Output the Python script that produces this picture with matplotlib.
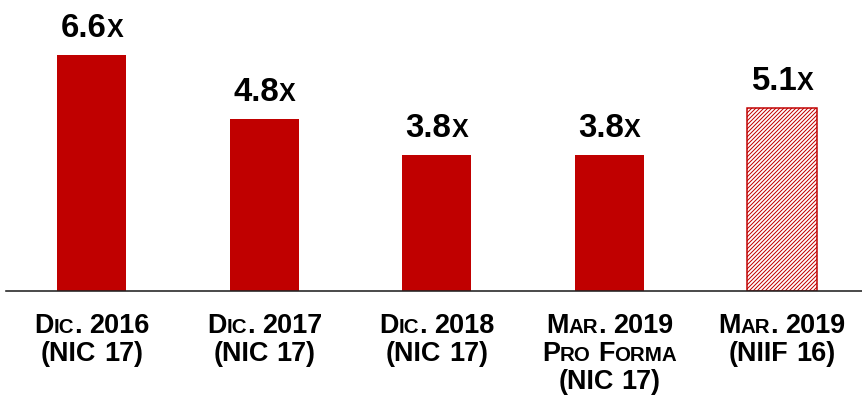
import matplotlib
matplotlib.use('Agg')
import matplotlib.pyplot as plt
from matplotlib.offsetbox import TextArea, HPacker, VPacker, AnnotationBbox

plt.rcParams['font.family'] = ['Liberation Sans', 'DejaVu Sans']
plt.rcParams['hatch.linewidth'] = 1.0

# data
categories = ['Dic. 2016\n(NIC 17)', 'Dic. 2017\n(NIC 17)', 'Dic. 2018\n(NIC 17)',
              'Mar. 2019\nPro Forma\n(NIC 17)', 'Mar. 2019\n(NIIF 16)']
values = [6.6, 4.8, 3.8, 3.8, 5.1]
value_labels = ['6.6x', '4.8x', '3.8x', '3.8x', '5.1x']
hatched = [False, False, False, False, True]

RED = '#C00000'


def small_caps_word(word, size, ratio=0.75):
    # lowercase letters are drawn as smaller capitals
    runs = []
    for ch in word:
        low = ch.islower()
        if runs and runs[-1][1] == low:
            runs[-1][0] += ch
        else:
            runs.append([ch, low])
    parts = []
    for txt, low in runs:
        parts.append(TextArea(txt.upper() if low else txt,
                              textprops=dict(size=size * ratio if low else size,
                                             weight='bold', color='black')))
    return HPacker(children=parts, pad=0, sep=0, align='baseline')


def small_caps_line(line, size, ratio=0.75):
    words = [small_caps_word(w, size, ratio) for w in line.split(' ')]
    return HPacker(children=words, pad=0, sep=size * 0.278, align='baseline')


fig = plt.figure(figsize=(862 / 72, 402 / 72), dpi=72)
ax = fig.add_axes([0, 111 / 402, 1, 291 / 402])

for i, v in enumerate(values):
    if hatched[i]:
        ax.bar(i, v, width=0.4, color='white', edgecolor=RED, hatch='//////', linewidth=1.5)
    else:
        ax.bar(i, v, width=0.4, color=RED)

ax.set_xlim(-92 / 172.5, 770 / 172.5)
ax.set_ylim(0, 291 / 35.8)
for s in ['left', 'right', 'top', 'bottom']:
    ax.spines[s].set_visible(False)
ax.axhline(0, xmin=6 / 862, xmax=1, color='#222222', lw=1.6, clip_on=False)
ax.set_xticks([])
ax.set_yticks([])

for i, v in enumerate(values):
    box = small_caps_line(value_labels[i], 33, 0.76)
    ab = AnnotationBbox(box, (i, v), xybox=(0, 11), xycoords='data',
                        boxcoords='offset points', box_alignment=(0.5, 0),
                        frameon=False, pad=0, annotation_clip=False)
    ax.add_artist(ab)

for i, cat in enumerate(categories):
    lines = [small_caps_line(l, 27, 0.76) for l in cat.split('\n')]
    box = VPacker(children=lines, pad=0, sep=2, align='center')
    ab = AnnotationBbox(box, (i, 0), xybox=(0, -22), xycoords='data',
                        boxcoords='offset points', box_alignment=(0.5, 1),
                        frameon=False, pad=0, annotation_clip=False)
    ax.add_artist(ab)

fig.savefig('out.png', dpi=72)
